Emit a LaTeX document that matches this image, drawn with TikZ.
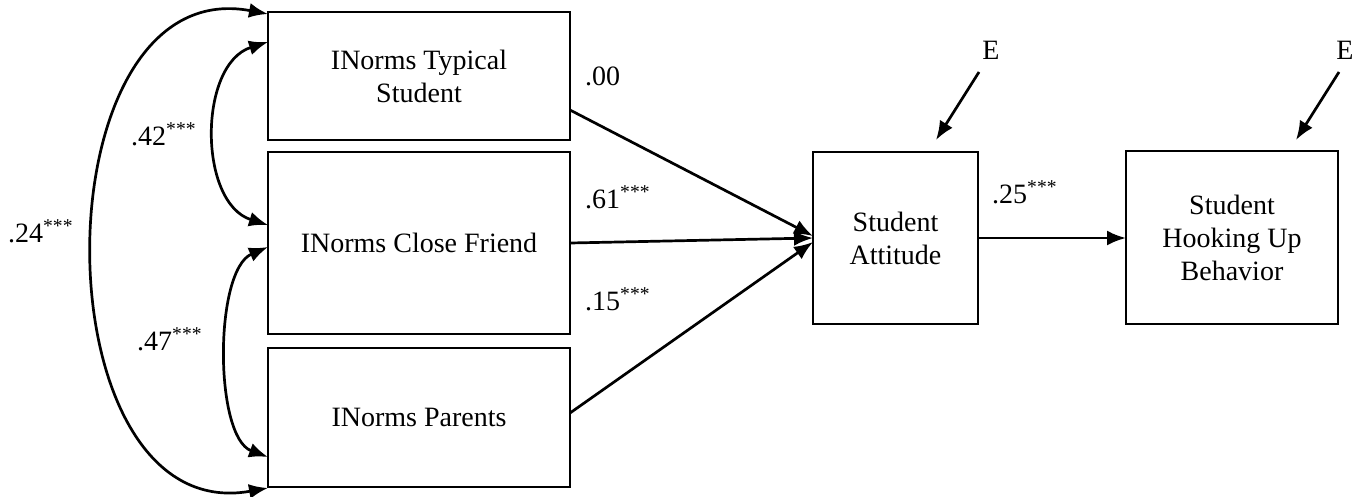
\documentclass[tikz,border=0pt]{standalone}
\usepackage{fontspec}
\setmainfont{Liberation Serif}
\usetikzlibrary{arrows.meta}
\begin{document}
\begin{tikzpicture}[x=1pt,y=-1pt,
  box/.style={draw,line width=2.9pt,inner sep=0pt,align=center,font=\fontsize{28}{33}\selectfont},
  lab/.style={anchor=base west,inner sep=0pt,font=\fontsize{28}{33}\selectfont},
  conn/.style={line width=2.7pt,-{Latex[length=19pt,width=15pt]}},
  bicon/.style={line width=2.7pt,{Latex[length=19pt,width=15pt]}-{Latex[length=19pt,width=15pt]}}]
\useasboundingbox (0,0) rectangle (1368,496);
\node[box,minimum width=302pt,minimum height=128pt] (t) at (419,76) {INorms Typical\\Student};
\node[box,minimum width=302pt,minimum height=182pt] (f) at (419,243) {INorms Close Friend};
\node[box,minimum width=302pt,minimum height=139pt] (p) at (419,417.5) {INorms Parents};
\node[box,minimum width=165pt,minimum height=172pt] (a) at (895.5,238) {Student\\Attitude};
\node[box,minimum width=212pt,minimum height=173pt] (h) at (1232,237.5) {Student\\Hooking Up\\Behavior};
% coordinates on box edges
\coordinate (tout) at (570,110);
\coordinate (fout) at (570,243);
\coordinate (pout) at (570,413);
\coordinate (ain1) at (813,236);
\coordinate (ain2) at (813,238);
\coordinate (ain3) at (813,242);
\coordinate (aout) at (978,238);
\coordinate (hin) at (1126,238);
\coordinate (tt) at (268,14);
\coordinate (t2) at (268,42);
\coordinate (f1) at (268,225);
\coordinate (f2) at (268,247);
\coordinate (p1) at (268,457);
\coordinate (pb) at (268,488);
\node[lab,anchor=center,inner sep=0pt] (e1) at (991,50) {E};
\node[lab,anchor=center,inner sep=0pt] (e2) at (1345,50) {E};
\coordinate (e1s) at (979,72);
\coordinate (e1e) at (936,140);
\coordinate (e2s) at (1339,72);
\coordinate (e2e) at (1296,140);
% paths
\draw[conn] (tout) -- (ain1);
\draw[conn] (fout) -- (ain2);
\draw[conn] (pout) -- (ain3);
\draw[conn] (aout) -- (hin);
\draw[conn] (e1s) -- (e1e);
\draw[conn] (e2s) -- (e2e);
\draw[bicon] (tt) .. controls (36,-30) and (36,530) .. (pb);
\draw[bicon] (t2) .. controls (198,64) and (198,203) .. (f1);
\draw[bicon] (f2) .. controls (214,270) and (214,437) .. (p1);
% labels
\node[lab] (l00) at (585,85) {.00};
\node[lab] (l61) at (585,208) {.61\textsuperscript{***}};
\node[lab] (l15) at (585,310) {.15\textsuperscript{***}};
\node[lab] (l25) at (992,203) {.25\textsuperscript{***}};
\node[lab] (l42) at (131,145) {.42\textsuperscript{***}};
\node[lab] (l24) at (8,242) {.24\textsuperscript{***}};
\node[lab] (l47) at (137,350) {.47\textsuperscript{***}};
\end{tikzpicture}
\end{document}
